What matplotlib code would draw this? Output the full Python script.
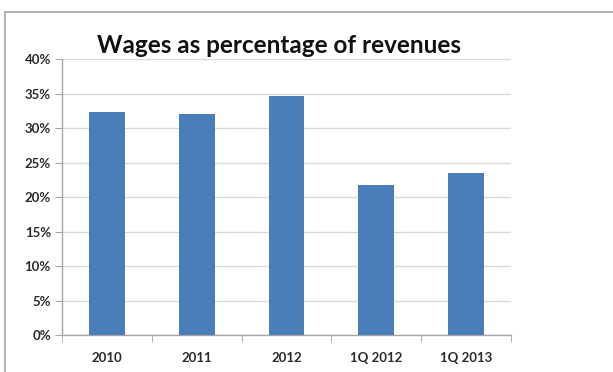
import matplotlib.pyplot as plt
from matplotlib.lines import Line2D
from matplotlib.ticker import PercentFormatter

# ---------------------------------------------------------
# Data
# ---------------------------------------------------------
periods = ["2010", "2011", "2012", "1Q 2012", "1Q 2013"]
wage_share = [32.4, 32.1, 34.7, 21.8, 23.5]
y_ticks = [0, 5, 10, 15, 20, 25, 30, 35, 40]

plt.rcParams["font.family"] = ["Lato", "DejaVu Sans"]

fig = plt.figure(figsize=(6.13, 3.72), dpi=100)

# chart frame: left and top edges
frame_x = 5 / 613
frame_y = 1 - 12 / 372
fig.lines.append(Line2D([frame_x, frame_x], [0, frame_y], transform=fig.transFigure,
                        color="#a6a6a6", linewidth=1.2))
fig.lines.append(Line2D([frame_x, 1], [frame_y, frame_y], transform=fig.transFigure,
                        color="#a6a6a6", linewidth=1.2))

ax = fig.add_axes([62 / 613, 1 - 335 / 372, 449 / 613, (335 - 59.3) / 372])

x = range(len(periods))
ax.bar(x, wage_share, width=0.4, color="#4a7ebb", zorder=3)

ax.set_xlim(-0.5, len(periods) - 0.5)
ax.set_ylim(0, 40)
ax.set_yticks(y_ticks)
ax.yaxis.set_major_formatter(PercentFormatter(decimals=0))
ax.set_xticks(list(x))
ax.set_xticklabels(periods)
ax.set_xticks([i - 0.5 for i in range(len(periods) + 1)], minor=True)

ax.grid(axis="y", color="#d9d9d9", linewidth=1, zorder=0)

for side in ["top", "right"]:
    ax.spines[side].set_visible(False)
for side in ["left", "bottom"]:
    ax.spines[side].set_color("#a6a6a6")
    ax.spines[side].set_linewidth(1)

ax.tick_params(axis="x", which="major", length=0, pad=12,
               labelsize=9.5, labelcolor="#2a2a2a")
ax.tick_params(axis="x", which="minor", length=5, color="#a6a6a6")
ax.tick_params(axis="y", length=5, color="#a6a6a6", pad=3,
               labelsize=9.5, labelcolor="#2a2a2a")
for lbl in ax.get_xticklabels() + ax.get_yticklabels():
    lbl.set_fontweight("bold")

fig.text(97 / 613, 1 - 53 / 372, "Wages as percentage of revenues",
         fontsize=17.5, fontweight="bold", color="#111111",
         ha="left", va="baseline")

fig.savefig("out.png", dpi=100)
